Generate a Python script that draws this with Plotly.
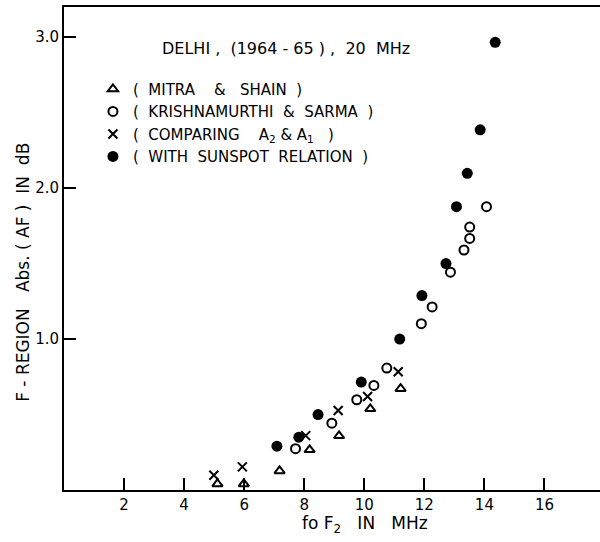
import plotly.graph_objects as go

# Mitra & Shain
tri_x = [5.11, 5.99, 7.18, 8.18, 9.16, 10.20, 11.21]
tri_y = [0.04, 0.04, 0.126, 0.266, 0.359, 0.538, 0.671]

# Krishnamurthi & Sarma
ring_x = [7.71, 8.92, 9.75, 10.32, 10.75, 11.90, 12.26, 12.87, 13.32, 13.51, 13.51, 14.07]
ring_y = [0.274, 0.443, 0.598, 0.693, 0.808, 1.102, 1.213, 1.443, 1.59, 1.667, 1.742, 1.877]

# Comparing A2 & A1
cross_x = [4.99, 5.94, 8.05, 9.13, 10.11, 11.13]
cross_y = [0.098, 0.153, 0.36, 0.527, 0.62, 0.784]

# With sunspot relation
dot_x = [7.09, 7.82, 8.46, 9.90, 11.18, 11.92, 12.72, 13.07, 13.43, 13.86, 14.36]
dot_y = [0.29, 0.35, 0.50, 0.715, 1.00, 1.288, 1.50, 1.877, 2.098, 2.386, 2.966]

x_ticks = [2, 4, 6, 8, 10, 12, 14, 16]
y_ticks = [1.0, 2.0, 3.0]
y_tick_text = ["1.0", "2.0", "3.0"]

FONT = "DejaVu Sans"
INK = "black"

fig = go.Figure()
fig.add_trace(go.Scatter(
    x=tri_x, y=tri_y, mode="markers", name="(  MITRA    &   SHAIN  )",
    legendgroup="a",
    marker=dict(symbol="triangle-up-open", size=9, color=INK, line=dict(width=2, color=INK)),
))
fig.add_trace(go.Scatter(
    x=ring_x, y=ring_y, mode="markers", name="(  KRISHNAMURTHI  &  SARMA  )",
    legendgroup="b",
    marker=dict(symbol="circle-open", size=9, color=INK, line=dict(width=2, color=INK)),
))
fig.add_trace(go.Scatter(
    x=cross_x, y=cross_y, mode="markers", name="(  COMPARING    A<sub>2</sub> & A<sub>1</sub>   )",
    legendgroup="c",
    marker=dict(symbol="x-thin", size=9, color=INK, line=dict(width=2, color=INK)),
))
fig.add_trace(go.Scatter(
    x=dot_x, y=dot_y, mode="markers", name="(  WITH  SUNSPOT  RELATION  )",
    legendgroup="d",
    marker=dict(symbol="circle", size=11, color=INK),
))

fig.update_layout(
    width=600, height=542,
    margin=dict(l=64, r=0, t=7, b=52),
    paper_bgcolor="white", plot_bgcolor="white",
    font=dict(family=FONT, size=14, color=INK),
    legend=dict(
        x=0.054, y=0.864, xanchor="left", yanchor="top",
        bgcolor="rgba(0,0,0,0)", font=dict(size=15, family=FONT, color=INK),
        traceorder="grouped", tracegroupgap=0, itemwidth=30,
    ),
    annotations=[
        dict(text="DELHI ,  (1964 - 65 ) ,  20  MHz", xref="paper", yref="paper",
             x=0.415, y=0.915, yanchor="middle", showarrow=False, font=dict(size=16)),
        dict(text="fo F<sub>2</sub>   IN   MHz", xref="paper", yref="paper",
             x=0.562, y=-0.072, yanchor="middle", showarrow=False, font=dict(size=17)),
        dict(text="F - REGION   Abs. ( AF )  IN  dB", xref="paper", yref="paper",
             x=-0.078, y=0.45, xanchor="center", yanchor="middle", textangle=-90,
             showarrow=False, font=dict(size=17)),
    ],
)
fig.update_xaxes(
    range=[0, 17.85], tickvals=x_ticks, ticks="inside", ticklen=12, tickwidth=2,
    tickcolor=INK, showline=True, linewidth=2, linecolor=INK, mirror=True,
    showgrid=False, zeroline=False, tickfont=dict(size=15),
)
fig.update_yaxes(
    range=[0, 3.2], tickvals=y_ticks, ticktext=y_tick_text, ticks="inside", ticklen=12,
    tickwidth=2, tickcolor=INK, showline=True, linewidth=2, linecolor=INK,
    showgrid=False, zeroline=False, tickfont=dict(size=15),
)

fig.write_html("out.html")
